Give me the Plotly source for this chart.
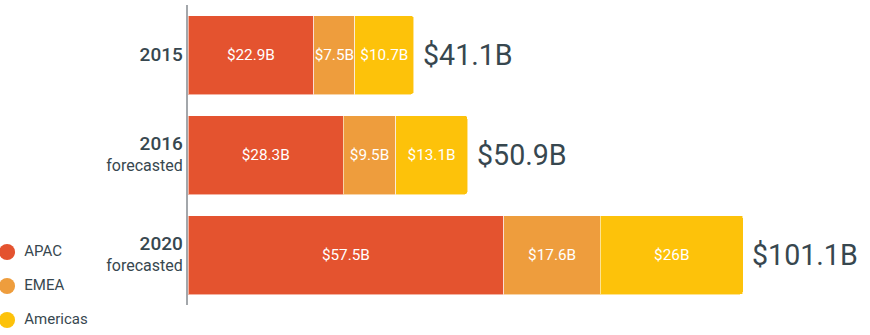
import plotly.graph_objects as go

years = ["2015", "2016", "2020"]
year_labels = [
    "<span style='font-size:19px;font-weight:500'>2015</span>",
    "<span style='font-size:19px;font-weight:500'>2016</span><br>forecasted",
    "<span style='font-size:19px;font-weight:500'>2020</span><br>forecasted",
]
regions = ["APAC", "EMEA", "Americas"]
apac = [22.9, 28.3, 57.5]
emea = [7.5, 9.5, 17.6]
americas = [10.7, 13.1, 26.0]
apac_labels = ["$22.9B", "$28.3B", "$57.5B"]
emea_labels = ["$7.5B", "$9.5B", "$17.6B"]
americas_labels = ["$10.7B", "$13.1B", "$26B"]
totals = [41.1, 50.9, 101.1]
total_labels = ["$41.1B", "$50.9B", "$101.1B"]

colors = ["#E4532F", "#EE9D3D", "#FDC20A"]
series = [apac, emea, americas]
series_labels = [apac_labels, emea_labels, americas_labels]
text_color = "#37474F"

fig = go.Figure()
for name, vals, labs, col in zip(regions, series, series_labels, colors):
    fig.add_trace(go.Bar(
        y=years, x=vals, orientation="h", name=name,
        marker=dict(color=col, line=dict(color="rgba(255,255,255,0.55)", width=1)),
        text=labs, textposition="inside", insidetextanchor="middle", textangle=0,
        constraintext="none",
        textfont=dict(color="white", size=15.3, family="Roboto"),
        showlegend=False, hoverinfo="skip",
    ))

# legend drawn as marker + text traces on their own hidden axes
fig.add_trace(go.Scatter(
    x=[0] * len(regions), y=regions, mode="markers",
    marker=dict(color=colors, size=16, symbol="circle"),
    xaxis="x2", yaxis="y2", showlegend=False, hoverinfo="skip", cliponaxis=False,
))
fig.add_trace(go.Scatter(
    x=[0] * len(regions), y=regions, mode="markers+text",
    marker=dict(color="rgba(0,0,0,0)", size=26),
    text=regions, textposition="middle right",
    textfont=dict(size=15, color=text_color, family="Roboto"),
    xaxis="x2", yaxis="y2", showlegend=False, hoverinfo="skip", cliponaxis=False,
))

for i, (t, lab) in enumerate(zip(totals, total_labels)):
    fig.add_annotation(
        x=t, y=i, xref="x", yref="y", text=lab, showarrow=False,
        xanchor="left", xshift=7,
        font=dict(size=28.6, color=text_color, family="Roboto"),
    )

W, H = 870, 335
fig.update_layout(
    width=W, height=H,
    margin=dict(l=0, r=0, t=0, b=0),
    barmode="stack", bargap=0.21, barcornerradius=3,
    plot_bgcolor="white", paper_bgcolor="white",
    font=dict(family="Roboto", color=text_color),
    showlegend=False,
    xaxis=dict(domain=[188 / W, 1], range=[0, 124.2], visible=False,
               fixedrange=True, anchor="y"),
    yaxis=dict(
        type="category", domain=[30 / H, 330 / H], anchor="x",
        categoryorder="array", categoryarray=years, range=[2.5, -0.5],
        tickmode="array", tickvals=years, ticktext=year_labels,
        showline=True, linecolor="#A3A7AB", linewidth=2,
        showgrid=False, ticks="", ticklabelstandoff=0, automargin=False,
        tickfont=dict(size=16, color=text_color, family="Roboto"),
        zeroline=False, fixedrange=True,
    ),
    xaxis2=dict(domain=[0, 0.2], range=[-0.0422, 1], visible=False,
                anchor="y2", fixedrange=True),
    yaxis2=dict(type="category", domain=[0, 100 / H], range=[2.44, -0.5],
                categoryorder="array", categoryarray=regions,
                visible=False, anchor="x2", fixedrange=True),
)

fig.write_html("out.html")
